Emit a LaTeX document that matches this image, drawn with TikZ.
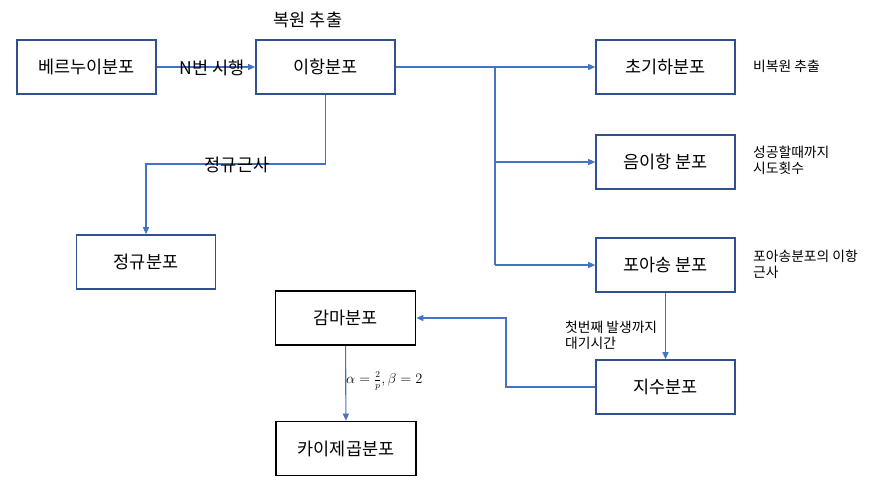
\documentclass[tikz,border=0pt]{standalone}
\usepackage{fontspec}
\setmainfont{Noto Sans CJK KR}
\usetikzlibrary{arrows.meta}
\definecolor{boxblue}{HTML}{2F528F}
\definecolor{lineblue}{HTML}{4472C4}
\tikzset{
  bluebox/.style={draw=boxblue, line width=1.6pt, minimum width=139pt, minimum height=54pt, inner sep=0pt, font=\fontsize{17.5}{20}\selectfont},
  blackbox/.style={draw=black, line width=1.7pt, minimum width=140pt, minimum height=54pt, inner sep=0pt, font=\fontsize{17.5}{20}\selectfont},
  conn/.style={draw=lineblue, line width=1.1pt, -{Triangle[length=7pt,width=6pt]}},
  plain/.style={draw=lineblue, line width=1.1pt},
  biglbl/.style={inner sep=0pt, font=\fontsize{17.5}{20}\selectfont},
  smalllbl/.style={inner sep=0pt, anchor=west, align=left, font=\fontsize{13.8}{16}\selectfont}
}
\begin{document}
\begin{tikzpicture}[x=1pt,y=-1pt]
\useasboundingbox (0,0) rectangle (872,493);
\fill[white] (0,0) rectangle (872,493);
% boxes
\node[bluebox] (bern) at (86.5,67) {베르누이분포};
\node[bluebox] (binom) at (325.5,67) {이항분포};
\node[bluebox] (hyper) at (665.5,67) {초기하분포};
\node[bluebox] (negbin) at (665.5,162) {음이항 분포};
\node[bluebox] (poisson) at (665.5,265) {포아송 분포};
\node[bluebox] (expo) at (665.5,387) {지수분포};
\node[bluebox] (normal) at (146,262) {정규분포};
\node[blackbox] (gamma) at (345.5,318) {감마분포};
\node[blackbox] (chi) at (346,448.5) {카이제곱분포};
% junction coordinates
\coordinate (jn) at (146,164);
\coordinate (jt) at (495,67);
\coordinate (jm) at (495,162);
\coordinate (jb) at (495,265);
\coordinate (je) at (506,318);
% connectors
\draw[conn] (bern) -- (binom);
\draw[conn] (binom.south) |- (jn) -- (normal.north);
\draw[conn] (binom) -- (hyper);
\draw[plain] (jt) -- (jb);
\draw[conn] (jm) -- (negbin.west);
\draw[conn] (jb) -- (poisson.west);
\draw[conn] (poisson) -- (expo);
\draw[conn] (expo.west) -| (je) -- (gamma.east);
\draw[conn] (gamma) -- (chi);
% labels
\node[biglbl] (lbok) at (308,20) {복원 추출};
\node[biglbl] (lbn) at (212,68) {N번 시행};
\node[biglbl] (lbnorm) at (237,165) {정규근사};
\node[smalllbl] (lbhyper) at (753,66) {비복원 추출};
\node[smalllbl] (lbneg) at (753,160) {성공할때까지\\시도횟수};
\node[smalllbl] (lbpois) at (753,264) {포아송분포의 이항\\근사};
\node[smalllbl] (lbexpo) at (565,335) {첫번째 발생까지\\대기시간};
\node[smalllbl, font=\fontsize{13.5}{15}\selectfont] (lbgam) at (346,381) {$\alpha=\frac{2}{p},\beta=2$};
\end{tikzpicture}
\end{document}
